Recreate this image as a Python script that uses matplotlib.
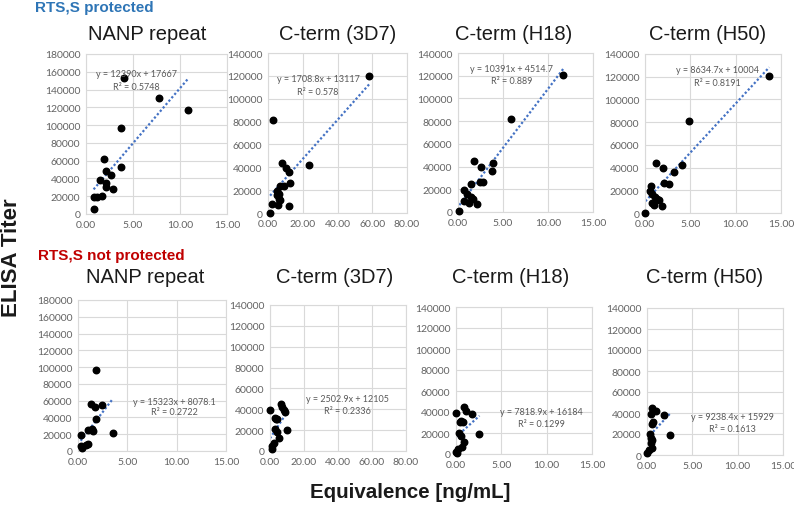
import numpy as np
import matplotlib
matplotlib.use("Agg")
import matplotlib.pyplot as plt
from matplotlib.ticker import FormatStrFormatter

W, H = 794, 510

# ---- data: (equivalence ng/mL, ELISA titer) ----
nanp_p_x = [4.05, 7.8, 10.85, 3.77, 3.77, 1.87, 2.18, 2.64, 1.48, 2.18, 2.11, 2.92, 0.88, 1.13, 1.73, 0.81]
nanp_p_y = [153000, 130000, 117000, 97000, 53000, 61500, 48000, 44000, 38000, 34500, 30000, 28000, 19500, 19000, 20000, 5600]

d3d7_p_x = [58.4, 3.1, 8.3, 23.5, 10.4, 11.9, 5.0, 6.9, 9.2, 12.7, 6.4, 6.4, 7.1, 5.8, 11.8, 2.5, 1.2, 5.4]
d3d7_p_y = [120000, 81400, 44000, 42300, 39400, 36000, 19300, 23300, 24000, 26500, 17000, 12500, 11000, 6700, 6100, 7600, 300, 15500]

h18_p_x = [11.7, 5.9, 1.73, 2.54, 3.93, 3.75, 2.39, 2.76, 1.4, 0.7, 1.0, 1.47, 1.62, 0.7, 1.25, 2.06, 0.15]
h18_p_y = [120400, 81700, 44500, 39800, 43000, 36300, 26400, 26000, 24300, 19600, 16000, 13200, 11700, 9400, 7900, 6700, 600]

h50_p_x = [13.7, 4.85, 1.18, 1.95, 4.12, 3.2, 2.06, 2.68, 0.66, 0.59, 0.77, 1.1, 1.54, 0.81, 0.99, 1.88, 0.04, 1.3]
h50_p_y = [120400, 81400, 43900, 39500, 42500, 36000, 26700, 25800, 23700, 19300, 17000, 13800, 11700, 8500, 7300, 6400, 300, 12600]

nanp_n_x = [1.8, 1.29, 1.76, 2.44, 1.83, 0.98, 1.46, 1.49, 3.56, 0.34, 1.02, 0.78, 0.27, 0.44]
nanp_n_y = [96500, 56600, 53000, 54600, 37600, 24500, 26500, 23300, 21800, 19400, 8300, 6700, 5500, 3600]

d3d7_n_x = [0.0, 6.3, 6.9, 8.1, 8.6, 3.1, 4.3, 2.9, 4.1, 5.5, 10.0, 2.4, 1.4, 1.0, 3.6]
d3d7_n_y = [39600, 45400, 42200, 39300, 37700, 32000, 30400, 20800, 17900, 12100, 19800, 7400, 4800, 1600, 31000]

h18_n_x = [0.0, 0.92, 1.1, 1.77, 0.44, 0.81, 0.37, 0.52, 0.89, 2.59, 0.63, 0.18, 0.0, 0.07, 0.55]
h18_n_y = [38800, 44900, 41400, 37900, 30200, 30900, 20000, 16900, 11100, 19100, 6400, 4800, 2200, 1000, 31500]

h50_n_x = [0.55, 1.03, 0.44, 1.84, 0.66, 0.55, 0.29, 0.48, 0.44, 2.5, 0.55, 0.18, 0.0, 0.5]
h50_n_y = [44600, 42100, 39500, 38300, 31900, 30000, 19800, 16600, 11800, 19500, 7000, 4500, 1600, 14000]

# Excel trendline coefficients (slope, intercept, R²) as printed on the chart
fits = [
    (12390, 17667, "0.5748"), (1708.8, 13117, "0.578"), (10391, 4514.7, "0.889"), (8634.7, 10004, "0.8191"),
    (15323, 8078.1, "0.2722"), (2502.9, 12105, "0.2336"), (7818.9, 16184, "0.1299"), (9238.4, 15929, "0.1613"),
]
titles = ["NANP repeat", "C-term (3D7)", "C-term (H18)", "C-term (H50)"] * 2
series = [(nanp_p_x, nanp_p_y), (d3d7_p_x, d3d7_p_y), (h18_p_x, h18_p_y), (h50_p_x, h50_p_y),
          (nanp_n_x, nanp_n_y), (d3d7_n_x, d3d7_n_y), (h18_n_x, h18_n_y), (h50_n_x, h50_n_y)]
xmax = [15, 80, 15, 15] * 2
ymax = [180000, 140000, 140000, 140000] * 2
ystep = [20000] * 8
xstep = [5, 20, 5, 5] * 2

# ---- layout in pixels ----
boxes = [(86, 227, 55, 215), (268, 407, 54, 214), (458, 593, 54, 213), (645, 781, 55, 214),
         (78, 226, 301, 452), (270, 406, 306, 452), (456, 592, 308, 455), (647, 783, 309, 456)]
title_pos = [(147, 35), (338, 35), (514, 35), (708, 35),
             (145, 278), (335, 278), (511, 278), (705, 278)]
eq_pos = [(0.36, 0.88, 0.80), (0.36, 0.84, 0.76), (0.40, 0.905, 0.83), (0.53, 0.90, 0.82),
          (0.65, 0.33, 0.26), (0.57, 0.36, 0.28), (0.625, 0.29, 0.21), (0.63, 0.265, 0.18)]

fig = plt.figure(figsize=(W / 100, H / 100), dpi=100)
tick_font = "Lato"
grid_c = "#d9d9d9"

for i in range(8):
    l, r, t, b = boxes[i]
    ax = fig.add_axes([l / W, 1 - b / H, (r - l) / W, (b - t) / H])
    xs, ys = np.array(series[i][0]), np.array(series[i][1])
    ax.set_xlim(0, xmax[i])
    ax.set_ylim(0, ymax[i])
    ax.set_xticks(np.arange(0, xmax[i] + 0.1, xstep[i]))
    ax.set_yticks(np.arange(0, ymax[i] + 1, ystep[i]))
    ax.xaxis.set_major_formatter(FormatStrFormatter("%.2f"))
    ax.grid(True, color=grid_c, lw=0.8)
    ax.set_axisbelow(True)
    for s in ax.spines.values():
        s.set_color(grid_c)
        s.set_linewidth(0.8)
    ax.tick_params(length=0, labelsize=7.5, labelcolor="#636363", pad=4)
    for lab in ax.get_xticklabels() + ax.get_yticklabels():
        lab.set_family(tick_font)

    m, c, r2 = fits[i]
    tx = np.array([xs.min(), xs.max()])
    ax.plot(tx, m * tx + c, ls=(0, (1, 1)), color="#4472C4", lw=1.6, zorder=2)
    ax.scatter(xs, ys, s=22, color="black", zorder=3, clip_on=False)

    ex, ey, ry = eq_pos[i]
    ax.text(ex, ey, f"y = {m:g}x + {c:g}", transform=ax.transAxes, ha="center", va="center",
            fontsize=6.5, color="#595959", family=tick_font)
    ax.text(ex, ry, f"R² = {r2}", transform=ax.transAxes, ha="center", va="center",
            fontsize=6.5, color="#595959", family=tick_font)

    px, py = title_pos[i]
    fig.text(px / W, 1 - py / H, titles[i], ha="center", va="center", fontsize=14.5,
             family="Liberation Sans", color="#1a1a1a")

fig.text(94 / W, 1 - 8 / H, "RTS,S protected", ha="center", va="center", fontsize=11,
         fontweight="bold", color="#2E75B6", family="Liberation Sans")
fig.text(111 / W, 1 - 256 / H, "RTS,S not protected", ha="center", va="center", fontsize=11,
         fontweight="bold", color="#C00000", family="Liberation Sans")
fig.text(12 / W, 1 - 258 / H, "ELISA Titer", rotation=90, ha="center", va="center", fontsize=16,
         fontweight="bold", color="#1a1a1a", family="Liberation Sans")
fig.text(410 / W, 1 - 493 / H, "Equivalence [ng/mL]", ha="center", va="center", fontsize=14.8,
         fontweight="bold", color="#1a1a1a", family="Liberation Sans")

fig.savefig("out.png", dpi=100)
